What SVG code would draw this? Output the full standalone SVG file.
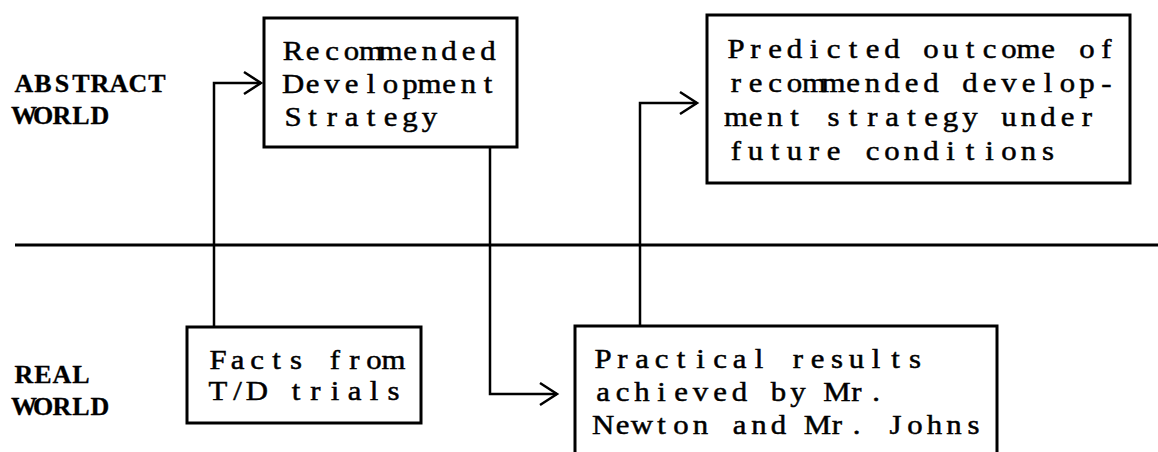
<svg xmlns="http://www.w3.org/2000/svg" width="1158" height="452" viewBox="0 0 1158 452">
  <style>
    /* typewriter look: glyphs widened 1.1x, each centred in a fixed 19.5px cell (17.73 before widening) */
    .txt { font-family: "Liberation Serif", "DejaVu Serif", serif; font-size: 28px; text-anchor: middle; fill: #000; stroke: #000; stroke-width: 0.5; }
    .lbl { font-family: "Liberation Serif", "DejaVu Serif", serif; font-size: 26px; font-weight: bold; text-anchor: middle; fill: #000; stroke: #000; stroke-width: 0.3; }
    .box { fill: none; stroke: #000; stroke-width: 3; }
    .wire { fill: none; stroke: #000; stroke-width: 2.5; }
    .divider { fill: none; stroke: #000; stroke-width: 3; }
  </style>
  <defs>
    <marker id="chev" markerUnits="userSpaceOnUse" markerWidth="24" markerHeight="28" viewBox="-20 -13 24 26" refX="0" refY="0" orient="auto">
      <path d="M-17,-11 L0,0 L-17,11" fill="none" stroke="#000" stroke-width="2.5"/>
    </marker>
  </defs>

  <rect width="1158" height="452" fill="#fff"/>

  <!-- world labels -->
  <g id="label-abstract">
    <text class="lbl" x="24 43 62 81 100 119 138 157" y="92">ABSTRACT</text>
    <text class="lbl" x="24 43 62 81 100" y="124">WORLD</text>
  </g>
  <g id="label-real">
    <text class="lbl" x="24 43 62 81" y="383">REAL</text>
    <text class="lbl" x="24 43 62 81 100" y="415">WORLD</text>
  </g>

  <!-- boundary between abstract and real world -->
  <line class="divider" x1="15" y1="245" x2="1158" y2="245"/>

  <g id="recommended-strategy">
    <rect class="box" x="264" y="18" width="253" height="129"/>
    <text class="txt" transform="matrix(1.1 0 0 1 293 0)" x="0 17.73 35.45 53.18 70.91 88.64 106.36 124.09 141.82 159.55 177.27" y="60">Recommended</text>
    <text class="txt" transform="matrix(1.1 0 0 1 293 0)" x="0 17.73 35.45 53.18 70.91 88.64 106.36 124.09 141.82 159.55 177.27" y="93">Development</text>
    <text class="txt" transform="matrix(1.1 0 0 1 293 0)" x="0 17.73 35.45 53.18 70.91 88.64 106.36 124.09" y="126">Strategy</text>
  </g>

  <g id="predicted-outcome">
    <rect class="box" x="707" y="15" width="423" height="168"/>
    <text class="txt" transform="matrix(1.1 0 0 1 736 0)" x="0 17.73 35.45 53.18 70.91 88.64 106.36 124.09 141.82 159.55 177.27 195 212.73 230.45 248.18 265.91 283.64 301.36 319.09 336.82" y="58">Predicted outcome of</text>
    <text class="txt" transform="matrix(1.1 0 0 1 736 0)" x="0 17.73 35.45 53.18 70.91 88.64 106.36 124.09 141.82 159.55 177.27 195 212.73 230.45 248.18 265.91 283.64 301.36 319.09 336.82" y="92">recommended develop-</text>
    <text class="txt" transform="matrix(1.1 0 0 1 736 0)" x="0 17.73 35.45 53.18 70.91 88.64 106.36 124.09 141.82 159.55 177.27 195 212.73 230.45 248.18 265.91 283.64 301.36 319.09" y="126">ment strategy under</text>
    <text class="txt" transform="matrix(1.1 0 0 1 736 0)" x="0 17.73 35.45 53.18 70.91 88.64 106.36 124.09 141.82 159.55 177.27 195 212.73 230.45 248.18 265.91 283.64" y="160">future conditions</text>
  </g>

  <g id="td-facts">
    <rect class="box" x="187" y="327" width="234" height="96"/>
    <text class="txt" transform="matrix(1.1 0 0 1 218 0)" x="0 17.73 35.45 53.18 70.91 88.64 106.36 124.09 141.82 159.55" y="369">Facts from</text>
    <text class="txt" transform="matrix(1.1 0 0 1 218 0)" x="0 17.73 35.45 53.18 70.91 88.64 106.36 124.09 141.82 159.55" y="400">T/D trials</text>
  </g>

  <g id="practical-results">
    <rect class="box" x="575" y="326" width="422" height="140"/>
    <text class="txt" transform="matrix(1.1 0 0 1 603 0)" x="0 17.73 35.45 53.18 70.91 88.64 106.36 124.09 141.82 159.55 177.27 195 212.73 230.45 248.18 265.91 283.64" y="368">Practical results</text>
    <text class="txt" transform="matrix(1.1 0 0 1 603 0)" x="0 17.73 35.45 53.18 70.91 88.64 106.36 124.09 141.82 159.55 177.27 195 212.73 230.45 248.18" y="401">achieved by Mr.</text>
    <text class="txt" transform="matrix(1.1 0 0 1 603 0)" x="0 17.73 35.45 53.18 70.91 88.64 106.36 124.09 141.82 159.55 177.27 195 212.73 230.45 248.18 265.91 283.64 301.36 319.09 336.82" y="434">Newton and Mr. Johns</text>
  </g>

  <g id="connectors">
    <path class="wire" d="M214,327 V83 H261" marker-end="url(#chev)"/>
    <path class="wire" d="M490,147 V394 H557" marker-end="url(#chev)"/>
    <path class="wire" d="M640,326 V103 H697" marker-end="url(#chev)"/>
  </g>
</svg>
